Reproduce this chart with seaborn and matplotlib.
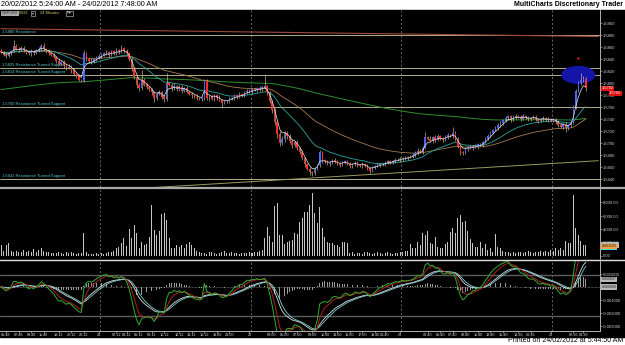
import numpy as np
import pandas as pd
import seaborn as sns
import matplotlib.pyplot as plt
from matplotlib.patches import Ellipse, Rectangle
from matplotlib.lines import Line2D
from matplotlib.transforms import blended_transform_factory

# GBPUSD, 24 minute bars. closes in pips above 1.5600
close_pips = [
    252, 248, 246, 250, 254, 262, 258, 256, 259, 256,
    252, 250, 254, 251, 255, 258, 262, 257, 254, 250,
    248, 244, 238, 233, 236, 230, 226, 228, 222, 216,
    212, 206, 204, 250, 240, 238, 236, 240, 243, 246,
    248, 250, 252, 248, 253, 250, 255, 252, 258, 254,
    250, 240, 225, 210, 198, 192, 205, 198, 194, 190,
    185, 175, 182, 186, 178, 174, 200, 198, 192, 196,
    190, 194, 188, 192, 186, 183, 180, 178, 176, 174,
    175, 204, 175, 178, 174, 180, 176, 172, 168, 170,
    170, 174, 176, 180, 178, 182, 180, 185, 188, 186,
    190, 189, 192, 190, 193, 195, 185, 170, 155, 135,
    115, 100, 108, 118, 112, 104, 98, 102, 92, 86,
    75, 65, 58, 52, 50, 58, 64, 85, 72, 70,
    66, 68, 72, 70, 66, 64, 68, 70, 66, 62,
    65, 68, 64, 62, 66, 63, 58, 54, 60, 62,
    64, 66, 65, 68, 70, 68, 71, 73, 72, 74,
    76, 75, 77, 78, 80, 84, 88, 86, 92, 110,
    108, 104, 110, 106, 112, 108, 106, 110, 114, 112,
    118, 108, 95, 86, 84, 90, 94, 92, 96, 94,
    98, 97, 102, 108, 112, 118, 122, 126, 130, 134,
    138, 142, 145, 140, 143, 146, 144, 141, 145, 143,
    140, 142, 144, 141, 138, 140, 142, 139, 141, 138,
    140, 136, 130, 128, 132, 126, 130, 135, 160, 188,
    200, 205, 208, 192,
]
first_open_pips = 254

# wick lengths in pips above/below the body
wick_up = [
    3, 2, 4, 3, 2, 10, 3, 2, 4, 3,
    2, 3, 4, 2, 3, 2, 4, 5, 2, 3,
    2, 3, 2, 4, 2, 3, 2, 4, 2, 3,
    2, 3, 2, 5, 3, 2, 4, 3, 2, 3,
    2, 3, 4, 2, 3, 2, 4, 3, 6, 2,
    3, 2, 4, 3, 2, 3, 17, 4, 3, 2,
    3, 2, 4, 3, 2, 3, 17, 2, 3, 4,
    2, 3, 4, 2, 3, 2, 3, 2, 4, 2,
    3, 2, 4, 3, 2, 3, 2, 4, 2, 3,
    2, 3, 2, 3, 2, 4, 2, 3, 2, 3,
    2, 3, 2, 4, 3, 19, 3, 2, 3, 4,
    3, 5, 4, 3, 2, 4, 3, 2, 3, 2,
    3, 2, 3, 2, 2, 3, 2, 4, 3, 2,
    3, 2, 2, 3, 2, 3, 2, 3, 2, 3,
    2, 3, 2, 2, 3, 2, 3, 2, 3, 2,
    3, 2, 2, 3, 2, 3, 2, 3, 2, 3,
    2, 3, 2, 3, 4, 3, 4, 3, 4, 9,
    3, 4, 3, 4, 3, 2, 3, 4, 3, 2,
    9, 3, 2, 3, 2, 3, 2, 3, 2, 3,
    2, 3, 2, 3, 4, 3, 2, 3, 4, 3,
    3, 4, 3, 2, 4, 3, 2, 3, 4, 2,
    3, 2, 4, 3, 2, 3, 4, 2, 3, 2,
    3, 2, 3, 4, 2, 3, 2, 3, 4, 3,
    4, 12, 5, 3,
]
wick_dn = [
    2, 3, 4, 2, 3, 2, 3, 4, 2, 3,
    3, 2, 4, 3, 2, 3, 2, 3, 4, 2,
    3, 2, 4, 3, 2, 4, 3, 2, 4, 3,
    3, 2, 2, 2, 3, 4, 3, 2, 3, 2,
    3, 2, 3, 4, 2, 3, 2, 3, 2, 3,
    2, 3, 4, 3, 5, 4, 3, 2, 4, 3,
    4, 6, 3, 2, 4, 5, 3, 2, 4, 3,
    3, 2, 4, 3, 2, 3, 4, 2, 3, 2,
    3, 2, 3, 4, 2, 3, 4, 2, 8, 3,
    2, 3, 2, 3, 4, 2, 3, 2, 3, 2,
    3, 2, 3, 2, 3, 2, 4, 3, 5, 4,
    6, 4, 3, 5, 4, 3, 5, 4, 3, 4,
    3, 4, 3, 4, 4, 3, 2, 3, 4, 3,
    2, 3, 2, 3, 2, 3, 2, 3, 2, 3,
    3, 2, 3, 2, 3, 2, 3, 4, 2, 3,
    2, 3, 2, 3, 2, 3, 2, 3, 2, 3,
    3, 2, 3, 2, 3, 2, 3, 2, 3, 2,
    3, 2, 4, 3, 2, 3, 4, 2, 3, 2,
    3, 4, 3, 6, 3, 2, 3, 2, 3, 2,
    3, 2, 3, 2, 3, 2, 3, 2, 3, 2,
    3, 2, 3, 4, 2, 3, 2, 3, 2, 3,
    2, 3, 2, 3, 4, 2, 3, 2, 3, 2,
    3, 4, 3, 2, 4, 7, 3, 2, 3, 2,
    3, 2, 3, 4,
]
volume = [
    1600, 700, 1600, 1850, 700, 600, 750, 600, 600, 850,
    600, 750, 600, 1000, 600, 850, 1200, 700, 600, 500,
    350, 450, 350, 600, 350, 300, 500, 350, 600, 350,
    250, 350, 450, 3350, 500, 300, 200, 250, 400, 300,
    350, 250, 400, 500, 600, 700, 1100, 1350, 1850, 2600,
    1500, 4000, 2600, 4600, 3350, 1100, 2100, 1600, 1800, 2850,
    7600, 3850, 3100, 3700, 6200, 6350, 5350, 2600, 1200, 1200,
    1600, 1350, 1600, 1100, 1700, 2100, 1600, 1200, 700, 500,
    400, 350, 300, 500, 600, 400, 300, 350, 500, 650,
    450, 400, 500, 350, 400, 300, 450, 400, 350, 500,
    400, 600, 500, 700, 900, 2600, 4350, 3000, 2100, 7500,
    7850, 3100, 3100, 1700, 2000, 2200, 2350, 3350, 3200, 5100,
    5600, 6600, 6600, 7600, 9350, 6350, 4850, 7350, 4100, 2850,
    2100, 1850, 1850, 1600, 1600, 1350, 2000, 2000, 1850, 400,
    550, 300, 450, 350, 300, 500, 600, 400, 300, 350,
    500, 450, 300, 400, 550, 350, 300, 450, 400, 600,
    500, 700, 650, 1700, 1200, 1100, 2100, 1600, 3350, 3100,
    3700, 1850, 1700, 2850, 1350, 1200, 1100, 1700, 2000, 3600,
    4200, 3350, 5600, 6100, 5000, 5200, 3700, 2500, 1850, 1350,
    1350, 2100, 1100, 1700, 850, 1200, 600, 3200, 1350, 1100,
    700, 500, 600, 450, 500, 400, 550, 600, 450, 500,
    700, 550, 400, 600, 500, 650, 550, 700, 600, 800,
    650, 1100, 800, 1100, 900, 2200, 1850, 1850, 9100, 4200,
    3100, 2200, 1600, 1584,
]
slow_ma_seed = 1.5789
second_price_label = 1.5783

levels = [1.5880, 1.5825, 1.5814, 1.5760, 1.5641]
level_labels = ['1.5880 Resistance', '1.5825 Resistance Turned Support',
                '1.5814 Resistance Turned Support', '1.5760 Resistance Turned Support',
                '1.5641 Resistance Turned Support']
res_trend_bars = [0, 238]
res_trend_prices = [1.5891, 1.5878]
sup_trend_bars = [40, 238]
sup_trend_prices = [1.5621, 1.5671]
day_breaks = [40, 100, 160, 220]
osc_levels = [0.0009, -0.0022]
highlight_bar, highlight_price = 230, 1.5814
signal_bar, signal_price = 230, 1.5843

time_labels = ['05:48', '07:48', '09:48', '11:48', '18:12', '20:12', '22:12', '21',
               '02:12', '04:12', '06:12', '08:12', '10:12', '12:12', '14:12', '16:12',
               '19:00', '21:00', '22', '03:00', '05:00', '07:00', '09:00', '11:00',
               '13:00', '15:00', '17:00', '19:40', '21:40', '23', '03:40', '05:40',
               '07:40', '09:40', '11:40', '13:40', '15:40', '18:36', '20:36', '24',
               '02:36', '04:36']
time_label_bars = [2, 7, 12, 17, 23, 28, 33, 39, 46, 50, 55, 60, 65, 71, 76, 81,
                   86, 91, 99, 108, 113, 118, 124, 129, 134, 139, 144, 149, 153, 159,
                   170, 175, 180, 185, 190, 195, 200, 206, 211, 219, 228, 232]

# ---- build the table
n = len(close_pips)
close = 1.56 + np.array(close_pips) / 10000
open_ = np.r_[1.56 + first_open_pips / 10000, close[:-1]]
high = np.maximum(open_, close) + np.array(wick_up) / 10000
low = np.minimum(open_, close) - np.array(wick_dn) / 10000
df = pd.DataFrame({'bar': np.arange(n), 'open': open_, 'high': high, 'low': low,
                   'close': close, 'volume': volume})


def ema(s, span):
    return s.ewm(span=span, adjust=False).mean()


df['ma_fast'] = ema(df['close'], 4)
df['ma_mid'] = ema(df['close'], 20)
df['ma_slow'] = ema(df['close'], 50)
long_src = pd.concat([pd.Series([slow_ma_seed]), df['close']], ignore_index=True)
df['ma_long'] = ema(long_src, 230).iloc[1:].to_numpy()
df['osc'] = ema(df['close'], 3) - ema(df['close'], 16)
df['osc_sig'] = ema(df['osc'], 4)
df['osc_slow'] = ema(df['osc'], 12)
df['osc_slow_sig'] = ema(df['osc_slow'], 3)
df['osc_hist'] = 2 * (df['osc_slow'] - df['osc_slow_sig'])

# ---- figure
sns.set_theme(style='dark')
plt.rcParams['font.family'] = ['Liberation Sans', 'DejaVu Sans']

W, H = 625, 345
fig = plt.figure(figsize=(6.25, 3.45), dpi=100)
fig.patch.set_facecolor('white')


def fy(y):
    return 1 - y / H


fig.add_artist(Rectangle((0, fy(337)), 1, (337 - 9.5) / H, transform=fig.transFigure,
                         color='black', zorder=-5))

xlim = (-0.4, 238.45)
ax = fig.add_axes([0, fy(186.5), 599.5 / W, (186.5 - 9.5) / H])
axv = fig.add_axes([0, fy(258), 599.5 / W, (258 - 189) / H])
axo = fig.add_axes([0, fy(331), 599.5 / W, (331 - 261) / H])

for a in (ax, axv, axo):
    a.set_facecolor('black')
    for sp in a.spines.values():
        sp.set_visible(False)
    for b in day_breaks:
        a.axvline(b - 0.5, color='#8c8c8c', lw=0.5, ls=(0, (3, 3)), zorder=1)

# main price panel
for lv, lab in zip(levels, level_labels):
    ax.axhline(lv, color='#cdc99c', lw=0.6, zorder=1)
    ax.annotate(lab, (0.3, lv), xytext=(0, 0.6), textcoords='offset points',
                fontsize=3.0, color='#5ccaca', va='bottom', ha='left')
ax.plot(res_trend_bars, res_trend_prices, color='#a0483a', lw=0.8, zorder=1)
ax.plot(sup_trend_bars, sup_trend_prices, color='#9a9a60', lw=0.7, zorder=1)

ax.add_patch(Ellipse((highlight_bar, highlight_price), 13, 0.0028, color='#1414a6', zorder=1.5))

up = df['close'] >= df['open']
ax.vlines(df['bar'], df['low'], df['high'], color='#cfc48a', lw=0.45, zorder=3)
ax.bar(df['bar'], np.maximum((df['close'] - df['open']).abs(), 0.00005),
       bottom=np.minimum(df['open'], df['close']), width=0.6,
       color=np.where(up, '#4d63ff', '#ff2b2b'), linewidth=0, zorder=4)

sns.lineplot(data=df, x='bar', y='ma_long', ax=ax, color='#2f8f2f', lw=0.7, zorder=2)
sns.lineplot(data=df, x='bar', y='ma_slow', ax=ax, color='#a57a50', lw=0.6, zorder=2)
sns.lineplot(data=df, x='bar', y='ma_mid', ax=ax, color='#2aa7a0', lw=0.6, zorder=2)
sns.lineplot(data=df, x='bar', y='ma_fast', ax=ax, color='#e6e6e6', lw=0.5, zorder=5)
ax.plot(signal_bar, signal_price, 'o', ms=1.6, color='#ff2020', mec='none', zorder=6)

ax.set_xlim(*xlim)
ax.set_ylim(1.5628, 1.5923)
ax.set_xlabel('')
ax.set_ylabel('')
ax.set_xticks([])
ax.yaxis.tick_right()
yt = np.arange(1.564, 1.5901, 0.002)
ax.set_yticks(yt, [f'{t:.4f}' for t in yt])
ax.tick_params(axis='y', right=True, colors='#d0d0d0', labelsize=3.0, length=1.5, width=0.4, pad=1)

tr = blended_transform_factory(ax.transAxes, ax.transData)
last_close = df['close'].iloc[-1]
ax.text(1.003, last_close, f'{last_close:.4f}', transform=tr, fontsize=2.8, color='white',
        va='center', ha='left', clip_on=False, zorder=8,
        bbox=dict(boxstyle='square,pad=0.15', fc='#e01010', ec='none'))
ax.text(1.016, second_price_label, f'{second_price_label:.4f}', transform=tr, fontsize=2.8,
        color='white', va='center', ha='left', clip_on=False, zorder=7,
        bbox=dict(boxstyle='square,pad=0.15', fc='#e01010', ec='none'))

# volume panel
sns.barplot(data=df, x='bar', y='volume', native_scale=True, color='#c4c4c4', saturation=1,
            width=0.4, linewidth=0, errorbar=None, ax=axv)
axv.set_xlim(*xlim)
axv.set_ylim(-345, 9990)
axv.set_xlabel('')
axv.set_ylabel('')
axv.set_xticks([])
axv.yaxis.tick_right()
vt = [0, 2000, 4000, 6000, 8000]
axv.set_yticks(vt, [f'{v:,.2f}' for v in vt])
axv.tick_params(axis='y', right=True, colors='#d0d0d0', labelsize=3.0, length=1.5, width=0.4, pad=1)
trv = blended_transform_factory(axv.transAxes, axv.transData)
axv.text(1.004, volume[-1], f'{volume[-1]:,.2f}', transform=trv, fontsize=3.0, color='#202020',
         va='center', ha='left', clip_on=False, zorder=8,
         bbox=dict(boxstyle='square,pad=0.25', fc='#b8b8b8', ec='none'))

# oscillator panel
for lv in osc_levels:
    axo.axhline(lv, color='#5c5c5c', lw=1.0, zorder=1)
axo.axhline(0, color='#8a8a8a', lw=0.5, ls=(0, (1, 1)), zorder=1)
axo.bar(df['bar'], df['osc_hist'], width=0.3, color='#9a9a9a', linewidth=0, zorder=2)
sns.lineplot(data=df, x='bar', y='osc_slow', ax=axo, color='#e0e0e0', lw=0.6, zorder=3)
sns.lineplot(data=df, x='bar', y='osc_slow_sig', ax=axo, color='#7ccfd6', lw=0.6, zorder=3)
sns.lineplot(data=df, x='bar', y='osc_sig', ax=axo, color='#b02020', lw=0.7, zorder=4)
sns.lineplot(data=df, x='bar', y='osc', ax=axo, color='#2fae2f', lw=0.7, zorder=5)
axo.set_xlim(*xlim)
axo.set_ylim(-0.00338, 0.002)
axo.set_xlabel('')
axo.set_ylabel('')
axo.yaxis.tick_right()
ot = [0.001, -0.001, -0.002, -0.003]
axo.set_yticks(ot, [f'{v:.6f}' for v in ot])
axo.tick_params(axis='y', right=True, colors='#d0d0d0', labelsize=3.0, length=1.5, width=0.4, pad=1)
axo.set_xticks(time_label_bars, time_labels)
axo.tick_params(axis='x', bottom=True, colors='#d8d8d8', labelsize=2.7, length=1.2, width=0.4, pad=0.6)
axo.spines['bottom'].set_visible(True)
axo.spines['bottom'].set_color('#cfcfcf')
axo.spines['bottom'].set_linewidth(0.6)

tro = blended_transform_factory(axo.transAxes, axo.transData)
for val, fc in [(df['osc'].iloc[-1], '#40d8e0'), (df['osc_sig'].iloc[-1], '#f0a040'),
                (0.0, '#b8b8b8'), (df['osc_hist'].iloc[-1], '#b8b8b8')]:
    axo.text(1.004, val, f'{val:.6f}', transform=tro, fontsize=2.6, color='#202020',
             va='center', ha='left', clip_on=False, zorder=8,
             bbox=dict(boxstyle='square,pad=0.15', fc=fc, ec='none'))

# frame lines
fig.add_artist(Line2D([0, 1], [fy(187.6)] * 2, transform=fig.transFigure, color='#a8a8a8', lw=1.6))
fig.add_artist(Line2D([0, 1], [fy(259.6)] * 2, transform=fig.transFigure, color='#e0e0e0', lw=1.0))
fig.add_artist(Line2D([599.6 / W] * 2, [fy(9.5), fy(331)], transform=fig.transFigure,
                      color='#b0b0b0', lw=0.7))

# header / footer text
fig.text(1 / W, fy(4.8), '20/02/2012 5:24:00 AM - 24/02/2012 7:48:00 AM', fontsize=5.2,
         color='black', va='center', ha='left')
fig.text(623 / W, fy(4.8), 'MultiCharts Discretionary Trader', fontsize=5.0, fontweight='bold',
         color='black', va='center', ha='right')
fig.text(623 / W, fy(341), 'Printed on 24/02/2012 at 5:44:50 AM', fontsize=5.0,
         color='black', va='center', ha='right')
fig.text(2 / W, fy(13.5), 'GBPUSD', fontsize=2.8, color='#303030', va='center',
         bbox=dict(boxstyle='square,pad=0.25', fc='#a8a8a8', ec='none'))
fig.text(19 / W, fy(13.5), '60HZ', fontsize=2.8, color='#d8c860', va='center')
fig.text(32 / W, fy(13.5), '\u25be', fontsize=2.8, color='#d0d0d0', va='center',
         bbox=dict(boxstyle='square,pad=0.2', fc='black', ec='#d0d0d0', lw=0.4))
fig.text(40 / W, fy(13.5), '24 Minutes', fontsize=2.8, color='#d8c860', va='center')
fig.text(67 / W, fy(13.5), 'R\u25be', fontsize=2.8, color='#d0d0d0', va='center',
         bbox=dict(boxstyle='square,pad=0.2', fc='black', ec='#d0d0d0', lw=0.4))

fig.savefig('out.png', dpi=100, facecolor=fig.get_facecolor())
